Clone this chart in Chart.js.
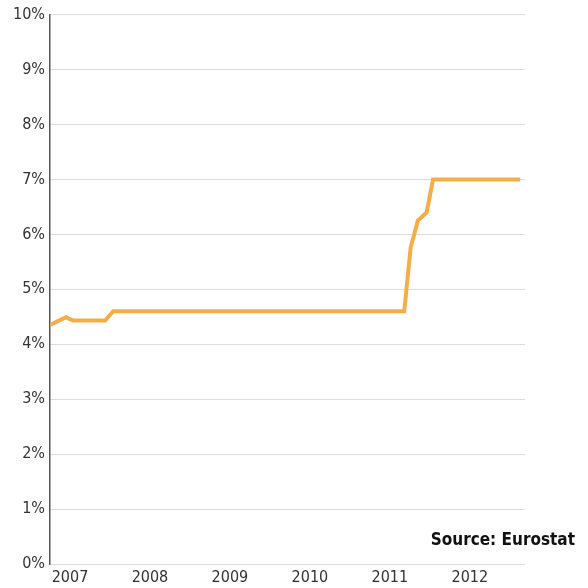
<!DOCTYPE html>
<html>
<head>
<meta charset="utf-8">
<script src="https://cdn.jsdelivr.net/npm/chart.js@4"></script>
<style>
  html, body { margin: 0; padding: 0; background: #fff; }
  #wrap { width: 588px; height: 588px; position: relative; }
</style>
</head>
<body>
<div id="wrap"><canvas id="rateChart" width="588" height="588"></canvas></div>
<script>
// time in decimal years, rate in %
const years = [2006.75, 2006.95, 2007.04, 2007.44, 2007.54, 2011.18, 2011.26, 2011.35, 2011.46, 2011.54, 2012.63];
const rates = [4.35, 4.49, 4.43, 4.43, 4.6, 4.6, 5.76, 6.25, 6.4, 7.0, 7.0];
const yearTicks = [2007, 2008, 2009, 2010, 2011, 2012];
const sourceText = "Source: Eurostat";

const FONT = "'DejaVu Sans Condensed', sans-serif";

// source label drawn on the canvas
const sourcePlugin = {
  id: "sourceLabel",
  afterDraw(chart) {
    const ctx = chart.ctx;
    ctx.save();
    ctx.font = "bold 17px " + FONT;
    ctx.fillStyle = "#111";
    ctx.textAlign = "right";
    ctx.textBaseline = "middle";
    ctx.fillText(sourceText, 575, 541);
    ctx.restore();
  }
};

new Chart(document.getElementById("rateChart"), {
  type: "line",
  data: {
    datasets: [{
      data: years.map((x, i) => ({ x: x, y: rates[i] })),
      borderColor: "#f5ad48",
      borderWidth: 4,
      pointRadius: 0,
      tension: 0,
      fill: false
    }]
  },
  options: {
    responsive: false,
    animation: false,
    layout: { padding: { top: 13, right: 63, left: 0, bottom: 0 } },
    plugins: { legend: { display: false }, tooltip: { enabled: false } },
    scales: {
      x: {
        type: "linear",
        min: 2006.75,
        max: 2012.69,
        afterBuildTicks(scale) {
          scale.ticks = yearTicks.map(v => ({ value: v }));
        },
        afterFit(scale) { scale.height = 24; },
        grid: { display: false, drawTicks: false },
        border: { display: false },
        ticks: {
          color: "#333",
          font: { family: FONT, size: 16 },
          padding: 4,
          maxRotation: 0,
          callback: v => String(v)
        }
      },
      y: {
        min: 0,
        max: 10,
        afterFit(scale) { scale.width = 50; },
        grid: {
          color: "#dcdcdc",
          lineWidth: 1,
          drawTicks: false
        },
        border: { display: true, color: "#555", width: 1.5, dash: [] },
        ticks: {
          stepSize: 1,
          color: "#333",
          font: { family: FONT, size: 16 },
          padding: 5,
          callback: v => v + "%"
        }
      }
    }
  },
  plugins: [sourcePlugin]
});
</script>
</body>
</html>
